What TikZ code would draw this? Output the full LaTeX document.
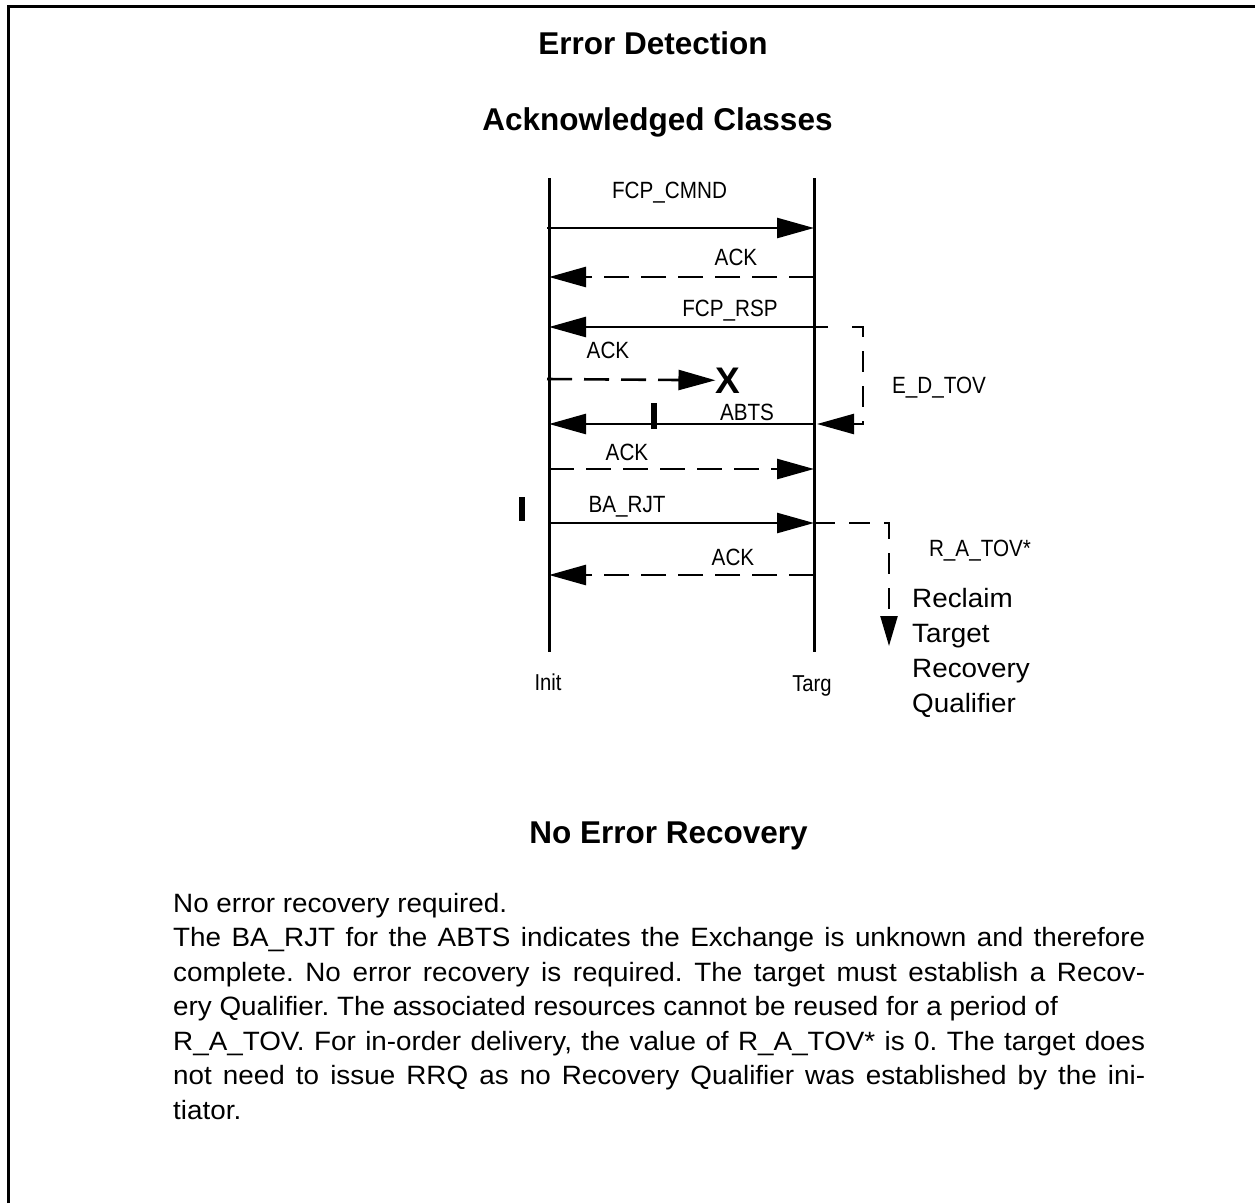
\documentclass[tikz,border=0pt]{standalone}
\usepackage{fontspec}
\usepackage{graphicx}
\setmainfont{Liberation Sans}
\newfontfamily\widefont[FakeStretch=1.05]{Liberation Sans}
\newfontfamily\narrowfont[FakeStretch=0.88]{Liberation Sans}
\usetikzlibrary{arrows.meta}
\frenchspacing
\tikzset{
  frameline/.style={line width=3.5pt},
  life/.style={line width=3pt},
  msg/.style={line width=2.6pt, -{Triangle[length=37pt,width=20pt]}},
  dmsg/.style={msg, dash pattern=on 25pt off 12pt},
  timer/.style={line width=2.4pt, dash pattern=on 21pt off 14pt},
  lbl/.style={font=\narrowfont\fontsize{23.5}{27}\selectfont, inner sep=0pt, anchor=base},
  lbls/.style={font=\narrowfont\fontsize{23}{27}\selectfont, inner sep=0pt, anchor=base},
  bodytxt/.style={font=\widefont\fontsize{26.5}{31}\selectfont, inner sep=0pt, anchor=base west},
  ttl/.style={font=\bfseries\fontsize{31.5}{36}\selectfont, inner sep=0pt, anchor=base},
  xmk/.style={font=\bfseries\fontsize{37}{40}\selectfont, inner sep=0pt, anchor=base},
  tick/.style={line width=5.5pt}
}
\begin{document}
\begin{tikzpicture}[x=1pt,y=-1pt]
\useasboundingbox (0,0) rectangle (1255,1203);
\fill[white] (0,0) rectangle (1255,1203);
\draw[frameline] (8.5,1203) -- (8.5,6.5) -- (1255,6.5);

% titles
\node[ttl] (title1) at (653,54) {Error Detection};
\node[ttl] (title2) at (657.5,130) {Acknowledged Classes};
\node[ttl] (title3) at (668.5,843) {No Error Recovery};

% lifelines
\coordinate (I0) at (549,178); \coordinate (I1) at (549,652);
\coordinate (T0) at (814,178); \coordinate (T1) at (814,652);
\draw[life] (I0) -- (I1);
\draw[life] (T0) -- (T1);
\node[lbls] (init) at (548,690) {Init};
\node[lbls] (targ) at (812,691) {Targ};

% FCP_CMND
\coordinate (m1i) at (547,228); \coordinate (m1t) at (814,228);
\draw[msg] (m1i) -- (m1t);
\node[lbl] (l1) at (669.5,198) {FCP\_CMND};

% ACK
\coordinate (m2t) at (814,277); \coordinate (m2i) at (549,277);
\draw[dmsg] (m2t) -- (m2i);
\node[lbl] (l2) at (736,265) {ACK};

% FCP_RSP
\coordinate (m3t) at (828,327); \coordinate (m3i) at (549,327);
\draw[msg] (m3t) -- (m3i);
\node[lbl] (l3) at (730,316.5) {FCP\_RSP};

% E_D_TOV timer
\coordinate (e0) at (852,327); \coordinate (e1) at (863,327);
\coordinate (e2) at (863,424); \coordinate (e3) at (817,424);
\draw[timer, -{Triangle[length=37pt,width=20pt]}] (e0) -- (e1) -- (e2) -- (e3);
\node[lbl] (ledtov) at (939,393) {E\_D\_TOV};

% lost ACK
\node[xmk] (xm) at (728,393) {X};
\coordinate (m4i) at (547,379);
\draw[dmsg] (m4i) -- (xm.west);
\node[lbl] (l4) at (608,358) {ACK};

% ABTS
\coordinate (m5t) at (814,424); \coordinate (m5i) at (549,424);
\draw[msg] (m5t) -- (m5i);
\coordinate (k1a) at (654,403); \coordinate (k1b) at (654,429);
\draw[tick] (k1a) -- (k1b);
\node[lbl] (l5) at (747,420) {ABTS};

% ACK
\coordinate (m6i) at (549,469); \coordinate (m6t) at (814,469);
\draw[dmsg] (m6i) -- (m6t);
\node[lbl] (l6) at (627,460) {ACK};

% BA_RJT
\coordinate (m7i) at (549,523); \coordinate (m7t) at (814,523);
\draw[msg] (m7i) -- (m7t);
\coordinate (k2a) at (522,497); \coordinate (k2b) at (522,521);
\draw[tick] (k2a) -- (k2b);
\node[lbl] (l7) at (627,512) {BA\_RJT};

% R_A_TOV timer
\coordinate (r1) at (889,523); \coordinate (r2) at (889,646);
\draw[timer, -{Triangle[length=30pt,width=17pt]}] (m7t) -- (r1) -- (r2);
\node[lbl] (lratov) at (980,556.5) {R\_A\_TOV*};

% ACK
\coordinate (m8t) at (814,575); \coordinate (m8i) at (549,575);
\draw[dmsg] (m8t) -- (m8i);
\node[lbl] (l8) at (733,565) {ACK};

% reclaim text
\node[bodytxt] (rc1) at (912,607.5) {Reclaim};
\node[bodytxt] (rc2) at (912,642.5) {Target};
\node[bodytxt] (rc3) at (912,677.5) {Recovery};
\node[bodytxt] (rc4) at (912,712.5) {Qualifier};

% body paragraph
\node[bodytxt] (b1) at (173,912) {No error recovery required.};
\node[bodytxt] (b2) at (173,946.5) {\makebox[972pt][s]{The BA\_RJT for the ABTS indicates the Exchange is unknown and therefore}};
\node[bodytxt] (b3) at (173,981) {\makebox[972pt][s]{complete. No error recovery is required. The target must establish a Recov-}};
\node[bodytxt] (b4) at (173,1015.5) {ery Qualifier. The associated resources cannot be reused for a period of};
\node[bodytxt] (b5) at (173,1050) {\makebox[972pt][s]{R\_A\_TOV. For in-order delivery, the value of R\_A\_TOV* is 0. The target does}};
\node[bodytxt] (b6) at (173,1084.5) {\makebox[972pt][s]{not need to issue RRQ as no Recovery Qualifier was established by the ini-}};
\node[bodytxt] (b7) at (173,1119) {tiator.};
\end{tikzpicture}
\end{document}
